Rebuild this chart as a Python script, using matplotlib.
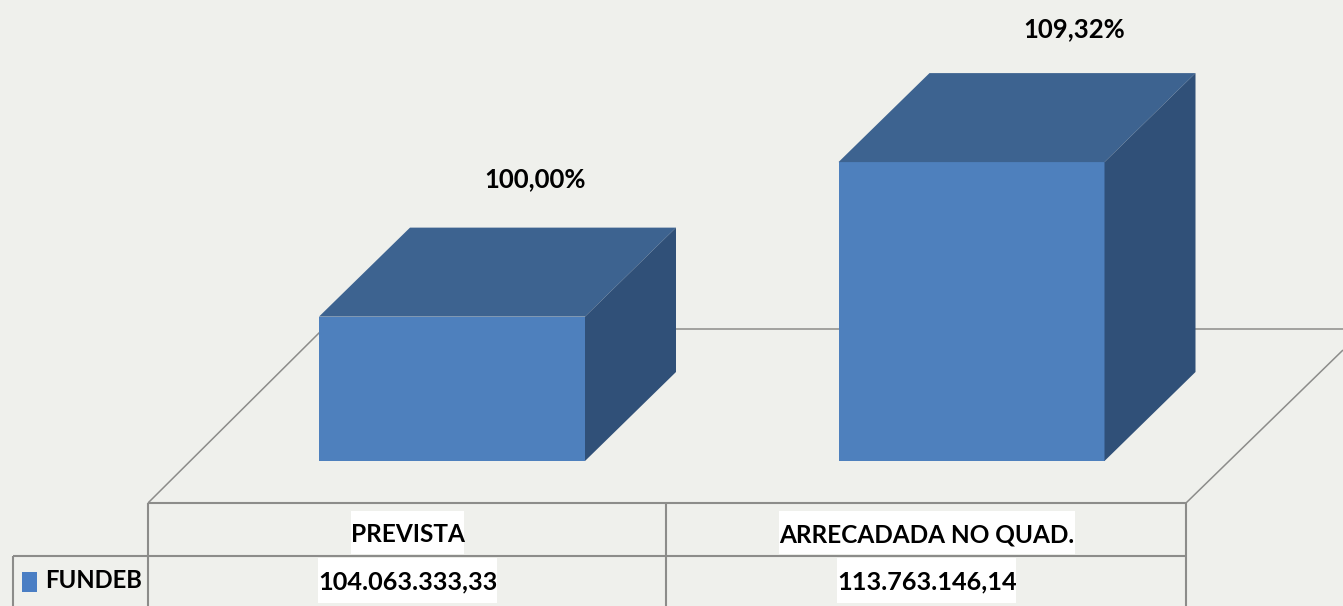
#!/usr/bin/env python

import matplotlib
matplotlib.use("Agg")
import matplotlib.pyplot as plt
from matplotlib.patches import Polygon, Rectangle

# Data
categorias = ["PREVISTA", "ARRECADADA NO QUAD."]
valores = [104063333.33, 113763146.14]
rotulos_valor = ["104.063.333,33", "113.763.146,14"]
porcentagens = ["100,00%", "109,32%"]
serie = "FUNDEB"

# Colours
fundo = "#EFF0EC"
frente = "#4E80BD"
topo = "#3D6390"
lado = "#305078"
linha = "#8C8C8A"

W, H = 1343, 606
base = 95000000
px_por_valor = 15.93e-6
px_por_cat = 519.5

plt.rcParams["font.family"] = ["Lato", "DejaVu Sans"]

fig = plt.figure(figsize=(W / 100, H / 100), dpi=100, facecolor=fundo)

# Overlay in pixels for the frame and the table
pix = fig.add_axes([0, 0, 1, 1], zorder=1)
pix.set_xlim(0, W)
pix.set_ylim(H, 0)
pix.axis("off")

# Chart axes, scale fitted so that the baseline falls on the floor
ax = fig.add_axes([0, 0, 1, 1], zorder=2)
ax.patch.set_alpha(0)
ax.set_xlim(-452 / px_por_cat, (W - 452) / px_por_cat)
ax.set_ylim(base - (H - 461) / px_por_valor, base + 461 / px_por_valor)
ax.axis("off")


def traco(xs, ys, lw=1.5):
    pix.plot(xs, ys, color=linha, lw=lw, solid_capstyle="butt")


# Floor
traco([148, 323], [503, 329], 1.1)
traco([323, W], [329, 329], 1.1)
traco([1186, W], [503, 350], 1.1)

# Bars with the 3D faces
larg = 266 / px_por_cat
dx = 91 / px_por_cat
dy = 89 / px_por_valor
for i, v in enumerate(valores):
    e = i - larg / 2
    d = i + larg / 2
    ax.bar(i, v - base, bottom=base, width=larg, color=frente, zorder=3)
    ax.add_patch(Polygon([(e, v), (d, v), (d + dx, v + dy), (e + dx, v + dy)],
                         closed=True, color=topo, lw=0, zorder=3))
    ax.add_patch(Polygon([(d, base), (d, v), (d + dx, v + dy), (d + dx, base + dy)],
                         closed=True, color=lado, lw=0, zorder=3))

# Percent labels
pct_x = [535, 1074]
pct_y = [179, 29]
for i in range(len(porcentagens)):
    pix.text(pct_x[i], pct_y[i], porcentagens[i], ha="center", va="center",
             fontsize=18.5, color="black", fontweight="bold")

# White patches behind the table text, then the table lines
pix.add_patch(Rectangle((351, 511), 113, 43, color="white", lw=0))
pix.add_patch(Rectangle((779, 511), 296, 43, color="white", lw=0))
pix.add_patch(Rectangle((318, 558), 179, 45, color="white", lw=0))
pix.add_patch(Rectangle((837, 558), 179, 45, color="white", lw=0))

traco([148, 1186], [503, 503])
traco([13, 1186], [556, 556])
traco([13, 13], [556, H])
traco([148, 148], [503, H])
traco([666, 666], [503, H])
traco([1186, 1186], [503, H])

# Table text
centros = [407.5, 927]
for i in range(len(categorias)):
    pix.text(centros[i], 535, categorias[i], ha="center", va="center", fontsize=17.6,
             fontweight="bold", color="black")
    pix.text(centros[i], 582, rotulos_valor[i], ha="center", va="center", fontsize=18.2,
             fontweight="bold", color="black")

# Legend key
pix.add_patch(Rectangle((22, 572), 15, 20, color="#4A7EC4", lw=0))
pix.text(45, 581, serie, ha="left", va="center", fontsize=17.2, fontweight="bold", color="black")

fig.savefig("out.png", dpi=100, facecolor=fundo)
